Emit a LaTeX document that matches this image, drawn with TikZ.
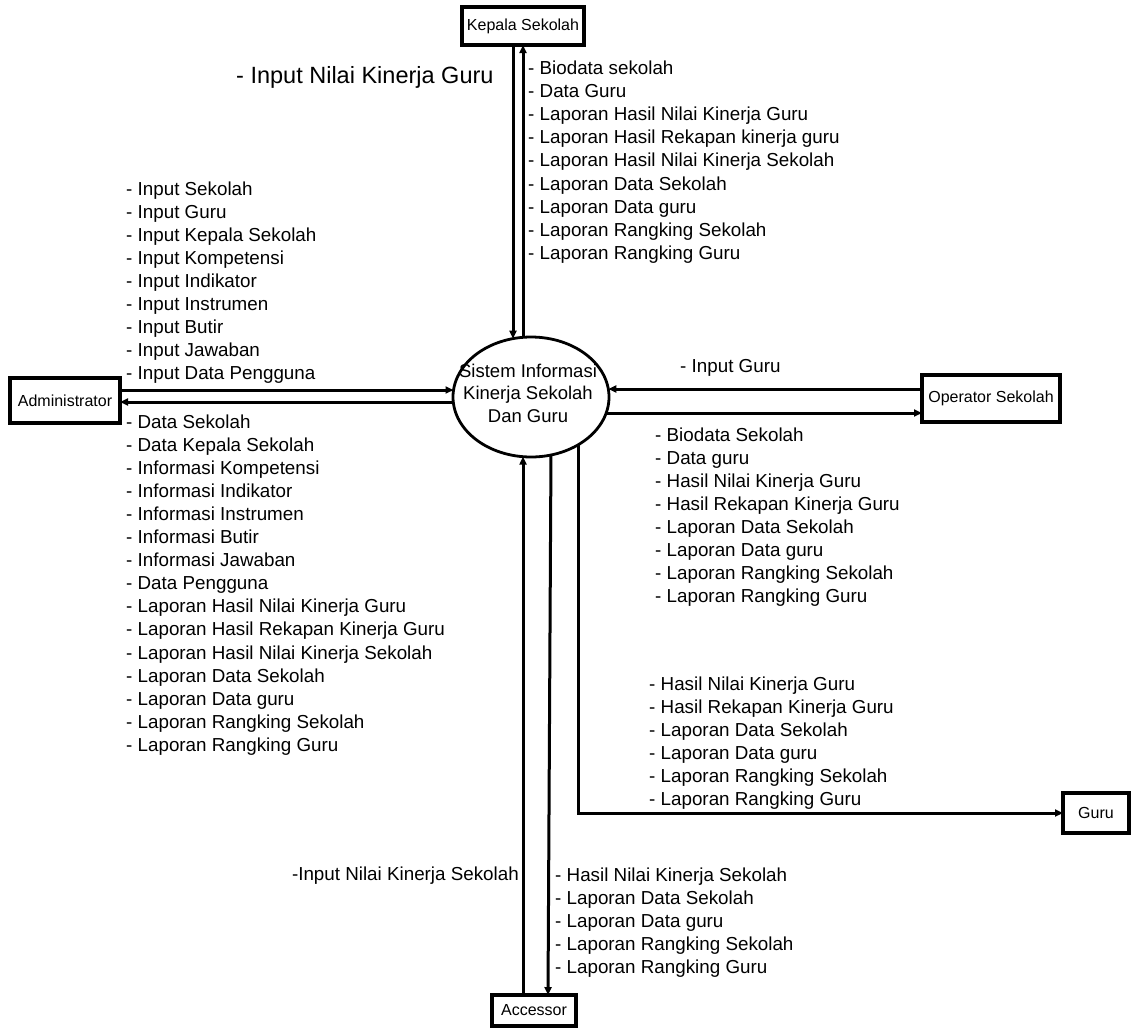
\documentclass[tikz,border=0pt]{standalone}
\usepackage{fontspec}
\setmainfont{Liberation Sans}
\usetikzlibrary{arrows.meta,shapes.geometric}
\newcommand\flowlist[1]{\begin{tabular}[t]{@{}l@{}}#1\end{tabular}}
\begin{document}
\begin{tikzpicture}[x=1pt,y=-1pt,
  box/.style={draw, line width=3.2pt, font=\fontsize{16}{19}\selectfont, inner sep=0pt, outer sep=0pt},
  lbl/.style={font=\fontsize{18.8}{23.1}\selectfont, inner sep=0pt, anchor=base west},
  arr/.style={line width=3pt, -{Triangle[length=8pt,width=7pt]}}]
\useasboundingbox (0,0) rectangle (1131,1028);

% entities
\node[box, minimum width=122pt, minimum height=38pt] (kep) at (523,26) {Kepala Sekolah};
\node[box, minimum width=110pt, minimum height=45pt] (adm) at (65,400.5) {Administrator};
\node[box, minimum width=138pt, minimum height=47pt] (ope) at (991,398.5) {Operator Sekolah};
\node[box, minimum width=66pt, minimum height=40pt] (guru) at (1096,813) {Guru};
\node[box, minimum width=84pt, minimum height=31pt] (acc) at (534,1010.5) {Accessor};

% process
\node[draw, ellipse, line width=2.8pt, minimum width=156pt, minimum height=120pt, inner sep=0pt, outer sep=0pt] (sys) at (531,397) {};
\node[font=\fontsize{18.5}{22.5}\selectfont, align=center, inner sep=0pt] (systext) at (528,393) {Sistem Informasi\\Kinerja Sekolah\\Dan Guru};

% helper coordinates
\coordinate (k1) at ([xshift=-10pt]kep.south);
\coordinate (a1) at ([yshift=10.5pt]adm.east);
\coordinate (a2) at ([yshift=-1.5pt]adm.east);
\coordinate (o1) at ([yshift=9.5pt]ope.west);
\coordinate (o2) at ([yshift=-14.5pt]ope.west);
\coordinate (c1) at ([xshift=-11pt]acc.north);
\coordinate (c2) at ([xshift=14pt]acc.north);

% flows
\draw[arr] (k1) -- (k1 |- sys.107);
\draw[arr] (kep.south |- sys.98) -- (kep.south);
\draw[arr] (a1) -- (a1 -| sys.175);
\draw[arr] (a2 -| sys.184) -- (a2);
\draw[arr] (o1) -- (o1 -| sys.6);
\draw[arr] (o2 -| sys.348) -- (o2);
\draw[arr] (c1) -- (c1 |- sys.262);
\draw[arr] (sys.289) -- (c2);
\draw[arr] (sys.315) |- (guru.west);

% labels
\node[lbl, font=\fontsize{23.5}{28}\selectfont] (tkepin) at (236,83.5) {- Input Nilai Kinerja Guru};
\node[lbl] (tkepout) at (528,74.5) {\flowlist{- Biodata sekolah\\- Data Guru\\- Laporan Hasil Nilai Kinerja Guru\\- Laporan Hasil Rekapan kinerja guru\\- Laporan Hasil Nilai Kinerja Sekolah\\- Laporan Data Sekolah\\- Laporan Data guru\\- Laporan Rangking Sekolah\\- Laporan Rangking Guru}};
\node[lbl] (tadmin) at (126,195) {\flowlist{- Input Sekolah\\- Input Guru\\- Input Kepala Sekolah\\- Input Kompetensi\\- Input Indikator\\- Input Instrumen\\- Input Butir\\- Input Jawaban\\- Input Data Pengguna}};
\node[lbl] (tadmout) at (126,428) {\flowlist{- Data Sekolah\\- Data Kepala Sekolah\\- Informasi Kompetensi\\- Informasi Indikator\\- Informasi Instrumen\\- Informasi Butir\\- Informasi Jawaban\\- Data Pengguna\\- Laporan Hasil Nilai Kinerja Guru\\- Laporan Hasil Rekapan Kinerja Guru\\- Laporan Hasil Nilai Kinerja Sekolah\\- Laporan Data Sekolah\\- Laporan Data guru\\- Laporan Rangking Sekolah\\- Laporan Rangking Guru}};
\node[lbl] (topein) at (680,372.5) {- Input Guru};
\node[lbl] (topeout) at (655,441) {\flowlist{- Biodata Sekolah\\- Data guru\\- Hasil Nilai Kinerja Guru\\- Hasil Rekapan Kinerja Guru\\- Laporan Data Sekolah\\- Laporan Data guru\\- Laporan Rangking Sekolah\\- Laporan Rangking Guru}};
\node[lbl] (tguru) at (649,690) {\flowlist{- Hasil Nilai Kinerja Guru\\- Hasil Rekapan Kinerja Guru\\- Laporan Data Sekolah\\- Laporan Data guru\\- Laporan Rangking Sekolah\\- Laporan Rangking Guru}};
\node[lbl, anchor=base east] (taccin) at (519,880) {-Input Nilai Kinerja Sekolah};
\node[lbl] (taccout) at (555,881) {\flowlist{- Hasil Nilai Kinerja Sekolah\\- Laporan Data Sekolah\\- Laporan Data guru\\- Laporan Rangking Sekolah\\- Laporan Rangking Guru}};
\end{tikzpicture}
\end{document}
